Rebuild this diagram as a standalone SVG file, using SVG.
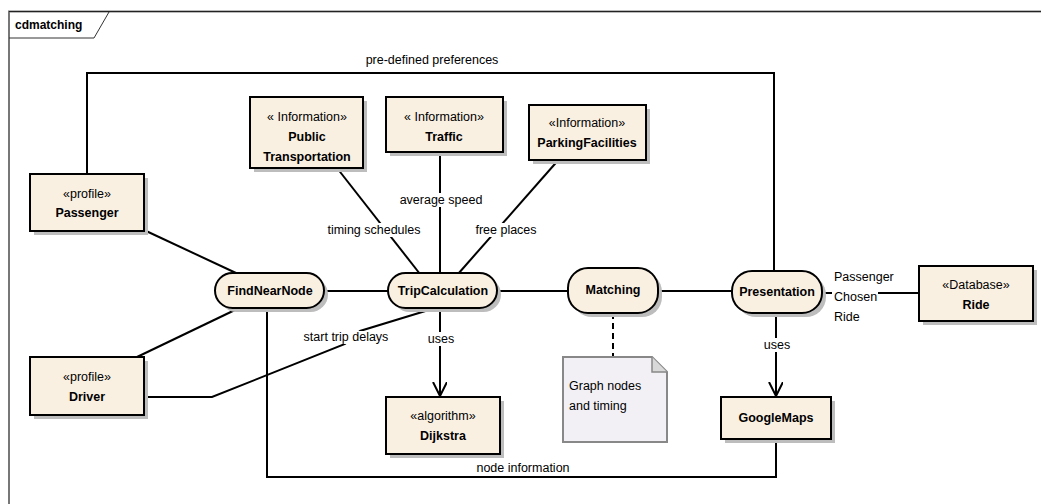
<svg xmlns="http://www.w3.org/2000/svg" width="1041" height="504" viewBox="0 0 1041 504">
<defs>
<style>
text{font-family:"Liberation Sans",Arial,sans-serif;font-size:12.5px;fill:#000}
.b{font-weight:bold}
.box{fill:#FAF0E2;stroke:#000;stroke-width:2}
.sh{fill:#BDBDBD}
.ln{fill:none;stroke:#000;stroke-width:2}
.lbl{fill:#fff}
</style>
<marker id="open" markerWidth="20" markerHeight="20" refX="14" refY="7" orient="auto" markerUnits="userSpaceOnUse" viewBox="0 0 20 20">
<path d="M0,0 L14,7 L0,14" fill="none" stroke="#000" stroke-width="2"/>
</marker>
</defs>
<rect width="1041" height="504" fill="#fff"/>
<g id="frame">
<path d="M9,504 V11.5 H1041" fill="none" stroke="#777" stroke-width="2"/>
<path d="M9,11.5 H1041" fill="none" stroke="#222" stroke-width="1"/>
<path d="M9,38 H94 L109,12" fill="none" stroke="#333" stroke-width="1"/>
<text x="15" y="29" class="b" style="font-size:12px">cdmatching</text>
</g>
<g id="connectors">
<polyline class="ln" points="87,174 87,73 774,73 774,271"/>
<text x="432" y="64" text-anchor="middle">pre-defined preferences</text>
<line class="ln" x1="144" y1="230" x2="236" y2="273"/>
<line class="ln" x1="137" y1="357" x2="237" y2="309"/>
<polyline class="ln" points="141,397 212,397 345,344 360,331 432,309"/>
<rect class="lbl" x="296" y="331" width="100" height="13"/>
<text x="346" y="341" text-anchor="middle">start trip delays</text>
<line class="ln" x1="822" y1="293" x2="919" y2="293"/>
<line class="ln" x1="324" y1="291" x2="388" y2="291"/>
<line class="ln" x1="497" y1="291" x2="568" y2="291"/>
<line class="ln" x1="658" y1="291" x2="732" y2="291"/>
<rect class="lbl" x="832" y="266" width="46" height="56"/>
<text x="834" y="281">Passenger</text>
<text x="834" y="301">Chosen</text>
<text x="834" y="321">Ride</text>
<line class="ln" x1="337" y1="168" x2="420" y2="274"/>
<rect class="lbl" x="323" y="223" width="102" height="14"/>
<text x="374" y="234" text-anchor="middle">timing schedules</text>
<line class="ln" x1="440" y1="152" x2="440" y2="273"/>
<rect class="lbl" x="397" y="193" width="88" height="14"/>
<text x="441" y="204" text-anchor="middle">average speed</text>
<line class="ln" x1="561" y1="157" x2="458" y2="274"/>
<rect class="lbl" x="472" y="223" width="68" height="14"/>
<text x="506" y="234" text-anchor="middle">free places</text>
<line class="ln" x1="440" y1="308" x2="440" y2="396" marker-end="url(#open)"/>
<rect class="lbl" x="426" y="332" width="30" height="14"/>
<text x="441" y="343" text-anchor="middle">uses</text>
<line x1="613" y1="313" x2="613" y2="357" stroke="#000" stroke-width="2" stroke-dasharray="6,4"/>
<line class="ln" x1="776" y1="313" x2="776" y2="396" marker-end="url(#open)"/>
<rect class="lbl" x="762" y="338" width="30" height="14"/>
<text x="777" y="349" text-anchor="middle">uses</text>
<polyline class="ln" points="267,308 267,477 776,477 776,439"/>
<text x="523" y="472" text-anchor="middle">node information</text>
</g>
<g id="passenger">
<rect class="sh" x="34" y="178" width="114" height="57"/>
<rect class="box" x="30" y="174" width="114" height="57"/>
<text x="87" y="198" text-anchor="middle">«profile»</text>
<text x="87" y="217" text-anchor="middle" class="b">Passenger</text>
</g>
<g id="driver">
<rect class="sh" x="34" y="361" width="114" height="58"/>
<rect class="box" x="30" y="357" width="114" height="58"/>
<text x="87" y="381" text-anchor="middle">«profile»</text>
<text x="87" y="401" text-anchor="middle" class="b">Driver</text>
</g>
<g id="publictransportation">
<rect class="sh" x="254" y="101" width="113" height="71"/>
<rect class="box" x="250" y="97" width="113" height="71"/>
<text x="307" y="121" text-anchor="middle">« Information»</text>
<text x="307" y="141" text-anchor="middle" class="b">Public</text>
<text x="307" y="161" text-anchor="middle" class="b">Transportation</text>
</g>
<g id="traffic">
<rect class="sh" x="390" y="101" width="117" height="55"/>
<rect class="box" x="386" y="97" width="117" height="55"/>
<text x="444" y="121" text-anchor="middle">« Information»</text>
<text x="444" y="141" text-anchor="middle" class="b">Traffic</text>
</g>
<g id="parkingfacilities">
<rect class="sh" x="533" y="109" width="117" height="55"/>
<rect class="box" x="529" y="105" width="117" height="55"/>
<text x="587" y="127" text-anchor="middle">«Information»</text>
<text x="587" y="147" text-anchor="middle" class="b">ParkingFacilities</text>
</g>
<g id="findnearnode">
<rect class="sh" x="219" y="277" width="109" height="35" rx="17.5"/>
<rect class="box" x="215" y="273" width="109" height="35" rx="17.5"/>
<text x="270" y="295" text-anchor="middle" class="b">FindNearNode</text>
</g>
<g id="tripcalculation">
<rect class="sh" x="392" y="277" width="109" height="35" rx="17.5"/>
<rect class="box" x="388" y="273" width="109" height="35" rx="17.5"/>
<text x="443" y="295" text-anchor="middle" class="b">TripCalculation</text>
</g>
<g id="matching">
<rect class="sh" x="572" y="272" width="90" height="45" rx="20"/>
<rect class="box" x="568" y="268" width="90" height="45" rx="20"/>
<text x="613" y="294" text-anchor="middle" class="b">Matching</text>
</g>
<g id="presentation">
<rect class="sh" x="736" y="275" width="90" height="42" rx="20"/>
<rect class="box" x="732" y="271" width="90" height="42" rx="20"/>
<text x="777" y="296" text-anchor="middle" class="b">Presentation</text>
</g>
<g id="ride">
<rect class="sh" x="923" y="270" width="114" height="55"/>
<rect class="box" x="919" y="266" width="114" height="55"/>
<text x="976" y="289" text-anchor="middle">«Database»</text>
<text x="976" y="309" text-anchor="middle" class="b">Ride</text>
</g>
<g id="googlemaps">
<rect class="sh" x="725" y="401" width="110" height="42"/>
<rect class="box" x="721" y="397" width="110" height="42"/>
<text x="776" y="422" text-anchor="middle" class="b">GoogleMaps</text>
</g>
<g id="dijkstra">
<rect class="sh" x="390" y="401" width="114" height="57"/>
<rect class="box" x="386" y="397" width="114" height="57"/>
<text x="443" y="420" text-anchor="middle">«algorithm»</text>
<text x="443" y="440" text-anchor="middle" class="b">Dijkstra</text>
</g>
<g id="note">
<path d="M563,357 H652 L667,372 V442 H563 Z" fill="#F3F0F5" stroke="#888" stroke-width="2"/>
<path d="M652,357 V372 H667" fill="#D8D8D8" stroke="#888" stroke-width="1.5"/>
<text x="569" y="390">Graph nodes</text>
<text x="569" y="410">and timing</text>
</g>
</svg>
